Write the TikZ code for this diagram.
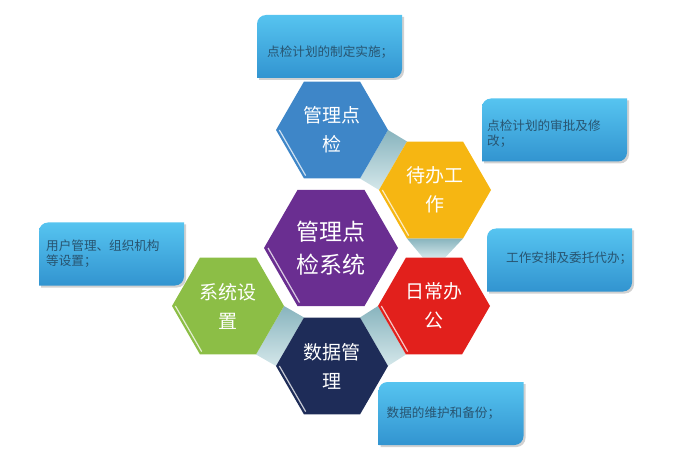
\documentclass[tikz,border=0pt]{standalone}
\usepackage{fontspec}
\usepackage{tikz}
\usepackage{xcolor}
\newfontfamily\cjk{Noto Sans CJK SC}
\usetikzlibrary{shapes.geometric,positioning,calc}

\definecolor{hexblue}{RGB}{62,134,200}
\definecolor{hexyellow}{RGB}{246,182,18}
\definecolor{hexpurple}{RGB}{106,46,145}
\definecolor{hexred}{RGB}{226,32,28}
\definecolor{hexnavy}{RGB}{30,44,88}
\definecolor{hexgreen}{RGB}{140,190,70}
\definecolor{boxtop}{RGB}{86,196,240}
\definecolor{boxbot}{RGB}{50,148,208}
\definecolor{boxink}{RGB}{40,84,112}
\definecolor{bridgedark}{RGB}{136,180,190}
\definecolor{bridgelight}{RGB}{212,231,234}

\pgfdeclarelayer{bg}
\pgfsetlayers{bg,main}

% box with round top left and bottom right corners, plus a shadow
\newcommand{\calloutbox}[1]{%
  \fill[black!30,opacity=.6] ([shift={(2pt,-2pt)}]#1.south west) -- ([shift={(2pt,-11pt)}]#1.north west) arc[start angle=180,end angle=90,radius=9pt] -- ([shift={(2pt,-2pt)}]#1.north east) -- ([shift={(2pt,7pt)}]#1.south east) arc[start angle=0,end angle=-90,radius=9pt] -- cycle;
  \shade[top color=boxtop,bottom color=boxbot] (#1.south west) -- ([yshift=-9pt]#1.north west) arc[start angle=180,end angle=90,radius=9pt] -- (#1.north east) -- ([yshift=9pt]#1.south east) arc[start angle=0,end angle=-90,radius=9pt] -- cycle;
}

\begin{document}
\begin{tikzpicture}[
            x = 1pt, y = 1pt, % one unit = one pixel
            hexa/.style = {regular polygon, regular polygon sides=6, minimum size=112pt, inner sep=0pt, outer sep=0pt, fill=#1, text=white, align=center, font=\cjk\fontsize{19}{29}\selectfont},
            box/.style = {minimum width=145pt, minimum height=63pt, inner sep=0pt, outer sep=0pt},
            note/.style = {inner sep=0pt, align=left, text=boxink, font=\cjk\fontsize{12.6}{15}\selectfont},
            bridge/.style = {top color=bridgedark, bottom color=bridgelight}
        ]
\useasboundingbox (0,0) rectangle (678,456);

% callouts
\node[box] (B1) at (329.5,409.5) {};
\calloutbox{B1}
\node[note, right=10pt of B1.west, yshift=-6pt] (T1) {点检计划的制定实施；};

\node[box] (B2) at (554.5,326) {};
\calloutbox{B2}
\node[note, right=5pt of B2.west, yshift=-4pt] (T2) {点检计划的审批及修\\改；};

\node[box] (B3) at (559.5,196) {};
\calloutbox{B3}
\node[note, right=19pt of B3.west, yshift=2pt] (T3) {工作安排及委托代办；};

\node[box] (B4) at (111.5,202) {};
\calloutbox{B4}
\node[note, right=7pt of B4.west] (T4) {用户管理、组织机构\\等设置；};

\node[box] (B5) at (451,42.5) {};
\calloutbox{B5}
\node[note, right=8pt of B5.west] (T5) {数据的维护和备份；};

% hexagons
\node[hexa=hexpurple, minimum size=134pt, font=\cjk\fontsize{23}{33}\selectfont] (XT) at (331,208) {管理点\\检系统};
\node[hexa=hexblue] (GL) at (332,326) {管理点\\检};
\node[hexa=hexyellow] (DB) at (435,266) {待办工\\作};
\node[hexa=hexred] (RC) at (434,150) {日常办\\公};
\node[hexa=hexnavy] (SJ) at (332,90) {数据管\\理};
\node[hexa=hexgreen] (SZ) at (228,150) {系统设\\置};

\foreach \h in {XT,GL,DB,RC,SJ,SZ}
  \draw[white, line width=1.2pt, opacity=.75] ($(\h.180)!.06!(\h.center)$) -- ($(\h.240)!.06!(\h.center)$);

% links between hexagons
\begin{pgfonlayer}{bg}
\shade[bridge] (GL.0) -- (GL.300) -- (DB.180) -- (DB.120) -- cycle;
\shade[bridge] (DB.240) -- (DB.300) -- ($(RC.60)!.3!(RC.120)$) -- ($(RC.120)!.3!(RC.60)$) -- cycle;
\shade[bridge] (RC.180) -- (RC.240) -- (SJ.0) -- (SJ.60) -- cycle;
\shade[bridge] (SZ.0) -- (SZ.300) -- (SJ.180) -- (SJ.120) -- cycle;
\end{pgfonlayer}
\end{tikzpicture}
\end{document}
